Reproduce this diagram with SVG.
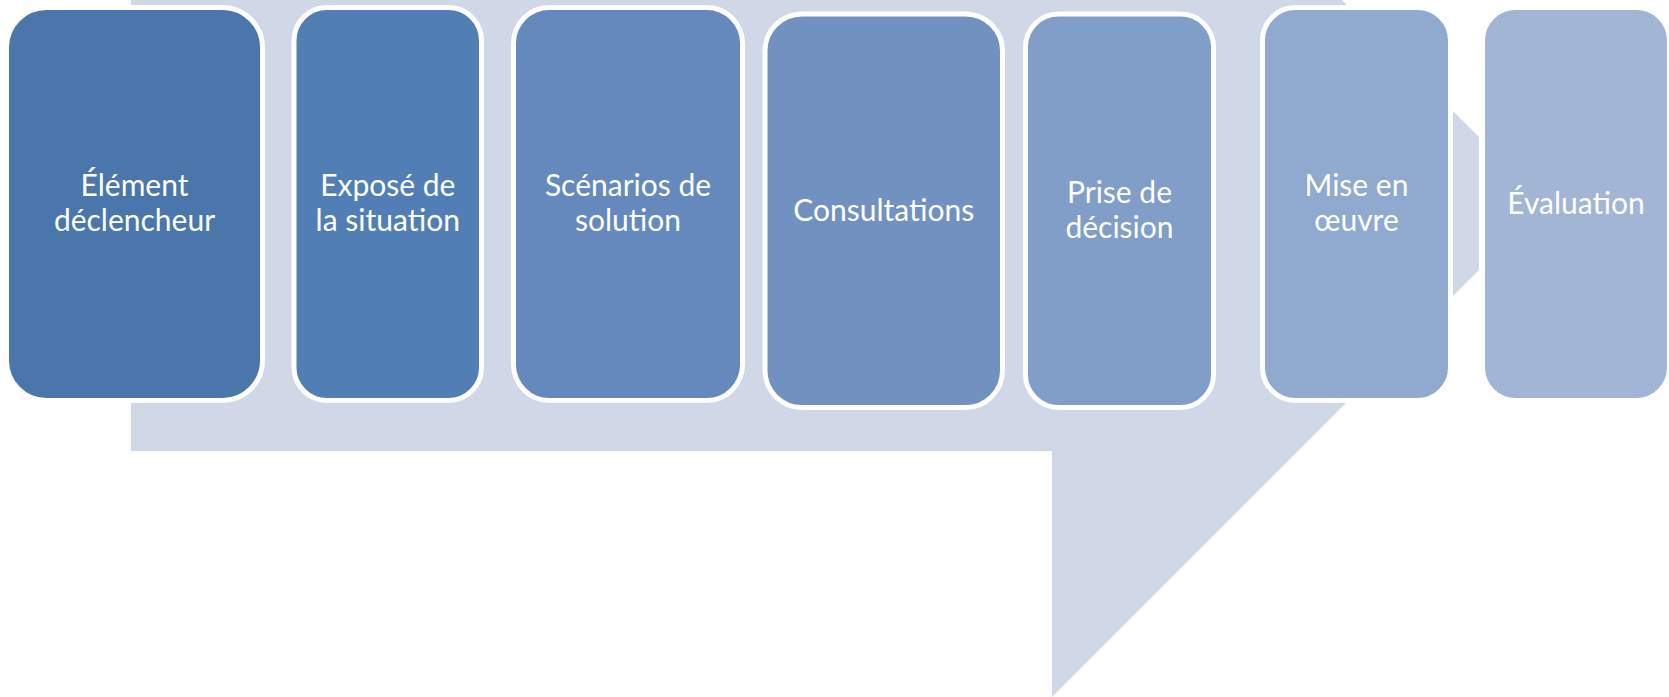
<svg xmlns="http://www.w3.org/2000/svg" width="1669" height="697" viewBox="0 0 1669 697">
  <style>
    .box { stroke: #FFFFFF; stroke-width: 5; }
    .lbl { font-family: Lato, "Open Sans", "Liberation Sans", sans-serif; font-size: 30px; fill: #FFFFFF; text-anchor: middle; }
  </style>
  <rect x="0" y="0" width="1669" height="697" fill="#FFFFFF"/>
  <g id="connectors">
    <polygon id="process-arrow" points="131,0 1342,0 1479,137 1479,270 1052,697 1052,451 131,451" fill="#D0D8E8"/>
  </g>
  <g id="node-1">
    <rect class="box" x="6.5" y="7.5" width="256" height="393" rx="40" fill="#4A76AB"/>
    <text class="lbl" x="134.5" y="195.5">Élément</text>
    <text class="lbl" x="134.5" y="230.5">déclencheur</text>
  </g>
  <g id="node-2">
    <rect class="box" x="294" y="7.5" width="187.5" height="393" rx="33" fill="#517FB5"/>
    <text class="lbl" x="387.75" y="195.5">Exposé de</text>
    <text class="lbl" x="387.75" y="230.5">la situation</text>
  </g>
  <g id="node-3">
    <rect class="box" x="513.5" y="7.5" width="229" height="393" rx="36" fill="#6589BC"/>
    <text class="lbl" x="628" y="195.5">Scénarios de</text>
    <text class="lbl" x="628" y="230.5">solution</text>
  </g>
  <g id="node-4">
    <rect class="box" x="765" y="14" width="237.5" height="393.5" rx="37" fill="#7192C1"/>
    <text class="lbl" x="883.75" y="221">Consultations</text>
  </g>
  <g id="node-5">
    <rect class="box" x="1025.5" y="14" width="188" height="393.5" rx="33" fill="#819EC8"/>
    <text class="lbl" x="1119.5" y="203">Prise de</text>
    <text class="lbl" x="1119.5" y="238">décision</text>
  </g>
  <g id="node-6">
    <rect class="box" x="1262.5" y="7.5" width="188" height="393" rx="33" fill="#90A9CE"/>
    <text class="lbl" x="1356.5" y="195.5">Mise en</text>
    <text class="lbl" x="1356.5" y="230.5">œuvre</text>
  </g>
  <g id="node-7">
    <rect class="box" x="1482.5" y="7.5" width="187" height="393" rx="33" fill="#A2B5D5"/>
    <text class="lbl" x="1576" y="214">Évaluation</text>
  </g>
</svg>
